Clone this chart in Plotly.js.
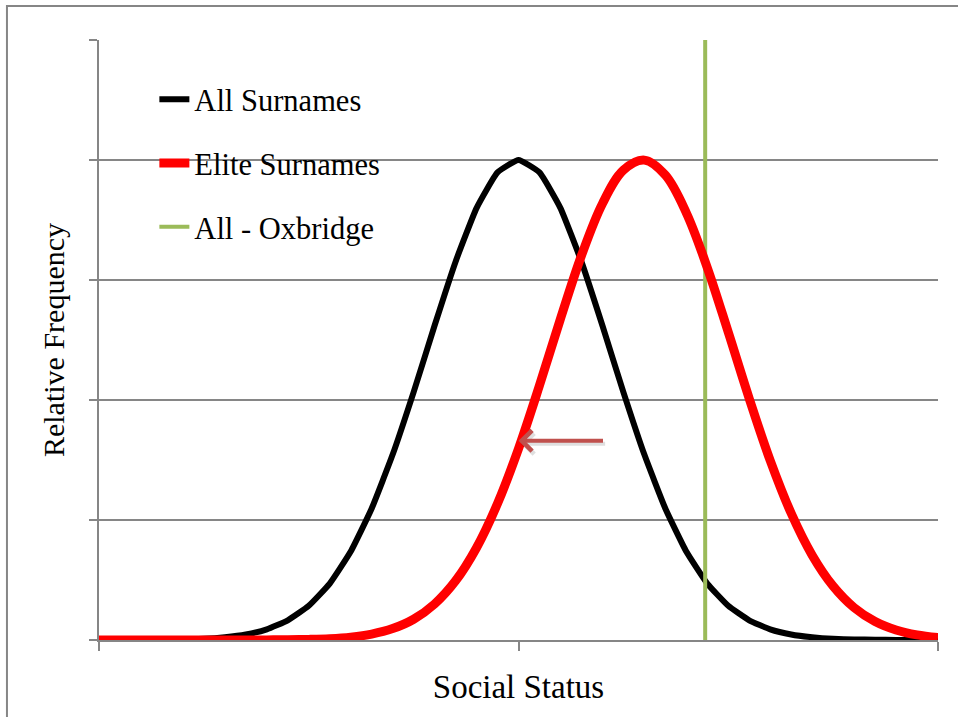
<!DOCTYPE html>
<html><head><meta charset="utf-8">
<script src="https://cdn.plot.ly/plotly-3.0.1.min.js"></script>
<style>html,body{margin:0;padding:0;background:#fff}#chart{width:958px;height:717px}</style>
</head><body><div id="chart"></div><script>
// Social status grid (x axis)
const socialStatus = [-4.0,-3.8,-3.6,-3.4,-3.2,-3.0,-2.8,-2.6,-2.4,-2.2,-2.0,-1.8,-1.6,-1.4,-1.2,-1.0,-0.8,-0.6,-0.4,-0.2,0.0,
                      0.2,0.4,0.6,0.8,1.0,1.2,1.4,1.6,1.8,2.0,2.2,2.4,2.6,2.8,3.0,3.2,3.4,3.6,3.8,4.0];
// Relative frequency, all surnames (black)
const allSurnames = [0.000,0.000,0.001,0.002,0.005,0.010,0.023,0.046,0.089,0.164,0.285,0.470,0.737,1.096,1.545,2.066,2.621,3.153,3.599,3.896,4.000,
                     3.896,3.599,3.153,2.621,2.066,1.545,1.096,0.737,0.470,0.285,0.164,0.089,0.046,0.023,0.010,0.005,0.002,0.001,0.000,0.000];
// Relative frequency, elite surnames (red)
const eliteSurnames = [0.000,0.000,0.000,0.000,0.000,0.000,0.000,0.000,0.001,0.002,0.005,0.011,0.024,0.049,0.095,0.173,0.300,0.493,0.769,1.137,
                       1.594,2.121,2.676,3.203,3.636,3.915,3.999,3.874,3.560,3.103,2.565,2.012,1.496,1.056,0.707,0.449,0.270,0.154,0.084,0.043,0.021];
// Oxbridge marker (green vertical line)
const oxbridgeX = [1.78, 1.78];
const oxbridgeY = [0, 5];
const seriesNames = ['All Surnames', 'Elite Surnames', 'All - Oxbridge'];
const xTicks = [-4, 0, 4];
const yTicks = [0, 1, 2, 3, 4, 5];
const arrowTail = [0.82, 1.66];
const arrowHead = [0.0, 1.66];

const serif = 'Liberation Serif, Times New Roman, serif';
const grey = '#868686';

const traces = [
  {x: socialStatus, y: allSurnames, name: seriesNames[0], type: 'scatter', mode: 'lines',
   line: {color: '#000000', width: 6, shape: 'spline', smoothing: 0.4}, legendgroup: 'a', legendrank: 1},
  {x: oxbridgeX, y: oxbridgeY, name: seriesNames[2], type: 'scatter', mode: 'lines',
   line: {color: '#9bbb59', width: 4}, legendgroup: 'c', legendrank: 3},
  {x: socialStatus, y: eliteSurnames, name: seriesNames[1], type: 'scatter', mode: 'lines',
   line: {color: '#ff0000', width: 9, shape: 'spline', smoothing: 1}, legendgroup: 'b', legendrank: 2}
];

const layout = {
  width: 958, height: 717,
  margin: {l: 99, r: 20, t: 40, b: 77, pad: 0},
  paper_bgcolor: '#ffffff', plot_bgcolor: '#ffffff',
  font: {family: serif, color: '#000000', size: 30},
  showlegend: true,
  legend: {x: 0.066, y: 0.945, xanchor: 'left', yanchor: 'top', bgcolor: 'rgba(0,0,0,0)',
           borderwidth: 0, font: {family: serif, size: 30.5, color: '#000'}, tracegroupgap: 21, traceorder: 'grouped'},
  xaxis: {range: [-4, 4], showgrid: false, zeroline: false, showline: true, linecolor: grey, linewidth: 2,
          ticks: 'outside', ticklen: 9, tickwidth: 2, tickcolor: grey, tickmode: 'array', tickvals: xTicks,
          showticklabels: false, fixedrange: true,
          title: {text: 'Social Status', font: {family: serif, size: 33, color: '#000'}, standoff: 25}},
  yaxis: {range: [0, 5], showgrid: true, gridcolor: grey, gridwidth: 2, zeroline: false, showline: true,
          linecolor: grey, linewidth: 2, ticks: 'outside', ticklen: 8, tickwidth: 2, tickcolor: grey,
          tickmode: 'array', tickvals: yTicks, showticklabels: false, fixedrange: true,
          title: {text: 'Relative Frequency', font: {family: serif, size: 30, color: '#000'}, standoff: 16}},
  shapes: [{type: 'rect', xref: 'paper', yref: 'paper', x0: -0.1097, x1: 1.03, y0: -0.14, y1: 1.0567,
            line: {color: grey, width: 2}, layer: 'below'}],
  annotations: [
    {x: arrowHead[0] + 0.02, y: arrowHead[1] - 0.025, ax: arrowTail[0] + 0.02, ay: arrowTail[1] - 0.025, xref: 'x', yref: 'y',
     axref: 'x', ayref: 'y', text: '', showarrow: true, arrowhead: 4, arrowsize: 1,
     arrowwidth: 4, arrowcolor: 'rgba(0,0,0,0.12)'},
    {x: arrowHead[0], y: arrowHead[1], ax: arrowTail[0], ay: arrowTail[1], xref: 'x', yref: 'y',
     axref: 'x', ayref: 'y', text: '', showarrow: true, arrowhead: 4, arrowsize: 1,
     arrowwidth: 4, arrowcolor: '#c0504d'}]
};

Plotly.newPlot('chart', traces, layout, {displayModeBar: false, staticPlot: true});
</script></body></html>
